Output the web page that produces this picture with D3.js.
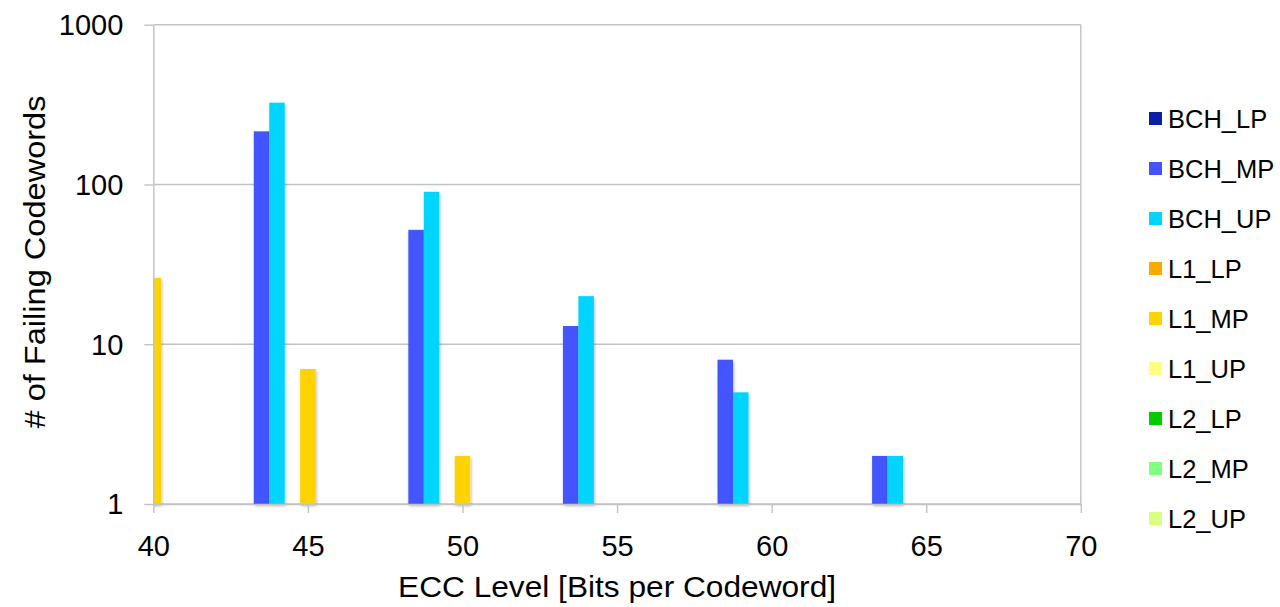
<!DOCTYPE html>
<html>
<head>
<meta charset="utf-8">
<script src="https://cdn.jsdelivr.net/npm/d3@7/dist/d3.min.js"></script>
<style>
  html, body { margin: 0; padding: 0; background: #fff; }
  svg { display: block; font-family: "Liberation Sans", Arial, sans-serif; }
</style>
</head>
<body>
<svg id="chart" width="1280" height="607"></svg>
<script>
// ECC levels at which each scheme was evaluated
const eccBCH = [44, 49, 54, 59, 64];
const eccL1 = [40, 45, 50];
const eccL2 = [];

// Failing codeword counts per series
const bchLP = [];
const bchMP = [215, 52, 13, 8, 2];
const bchUP = [325, 90, 20, 5, 2];
const l1LP = [];
const l1MP = [26, 7, 2];
const l1UP = [];
const l2LP = [];
const l2MP = [];
const l2UP = [];

const seriesNames = ["BCH_LP", "BCH_MP", "BCH_UP", "L1_LP", "L1_MP", "L1_UP", "L2_LP", "L2_MP", "L2_UP"];
const xTicks = [40, 45, 50, 55, 60, 65, 70];
const yTicks = [1, 10, 100, 1000];

const seriesColors = ["#0a1fa3", "#4354ff", "#00d4ff", "#ffa800", "#ffd300", "#ffff80", "#00cc00", "#80ff80", "#d9ff80"];
const seriesX = [eccBCH, eccBCH, eccBCH, eccL1, eccL1, eccL1, eccL2, eccL2, eccL2];
const seriesValues = [bchLP, bchMP, bchUP, l1LP, l1MP, l1UP, l2LP, l2MP, l2UP];
// horizontal slot of each series' bar, in bar widths from its ECC level
const seriesSlot = [-2, -1, 0, -1, 0, 1, -1, 0, 1];

const series = seriesNames.map((name, i) => ({
  name, x: seriesX[i], v: seriesValues[i], color: seriesColors[i], slot: seriesSlot[i]
}));

const svg = d3.select("#chart");
const plotLeft = 153.3, plotRight = 1080.8, plotTop = 24.7, plotBottom = 504;
const gridColor = "#c3c3c3";

const x = d3.scaleLinear().domain([40, 70]).range([plotLeft, plotRight]);
const y = d3.scaleLog().domain([1, 1000]).range([plotBottom, plotTop]);
const barUnits = 0.5; // bar width in ECC-level units
const barW = x(40 + barUnits) - x(40);

const defs = svg.append("defs");
defs.append("clipPath").attr("id", "plotClip")
  .append("rect").attr("x", plotLeft).attr("y", plotTop - 2)
  .attr("width", plotRight - plotLeft).attr("height", plotBottom - plotTop + 6);
const shadow = defs.append("filter").attr("id", "barShadow")
  .attr("x", "-30%").attr("y", "-10%").attr("width", "160%").attr("height", "130%");
shadow.append("feDropShadow").attr("dx", 1).attr("dy", 2).attr("stdDeviation", 1.6)
  .attr("flood-color", "#000").attr("flood-opacity", 0.28);

// horizontal gridlines
svg.append("g").selectAll("line").data(yTicks).join("line")
  .attr("x1", plotLeft).attr("x2", plotRight)
  .attr("y1", d => y(d)).attr("y2", d => y(d))
  .attr("stroke", gridColor).attr("stroke-width", 1.4);

// right border of plot
svg.append("line").attr("x1", plotRight).attr("x2", plotRight).attr("y1", plotTop).attr("y2", plotBottom)
  .attr("stroke", gridColor).attr("stroke-width", 1.4);

// bars
const bars = svg.append("g").attr("clip-path", "url(#plotClip)");
series.forEach(s => {
  const pts = s.v.map((val, i) => ({ xv: s.x[i], val }));
  bars.append("g").attr("filter", "url(#barShadow)")
    .selectAll("rect").data(pts).join("rect")
    .attr("x", d => x(d.xv + s.slot * barUnits) - barW / 2)
    .attr("width", barW)
    .attr("y", d => y(d.val))
    .attr("height", d => plotBottom - y(d.val))
    .attr("fill", s.color);
});

// y axis
const yAxis = svg.append("g").attr("transform", `translate(${plotLeft},0)`)
  .call(d3.axisLeft(y).tickValues(yTicks).tickFormat(d3.format("d")).tickSizeInner(9).tickSizeOuter(0).tickPadding(21));
yAxis.select(".domain").attr("stroke", gridColor).attr("stroke-width", 1.4);
yAxis.selectAll(".tick line").attr("stroke", gridColor).attr("stroke-width", 1.4);
yAxis.selectAll(".tick text").attr("font-size", 29).attr("fill", "#000")
  .attr("font-family", "Liberation Sans, Arial, sans-serif").attr("dy", "0.34em");

// x axis
const xAxis = svg.append("g").attr("transform", `translate(0,${plotBottom})`)
  .call(d3.axisBottom(x).tickValues(xTicks).tickFormat(d3.format("d")).tickSizeInner(9).tickSizeOuter(0).tickPadding(22));
xAxis.select(".domain").attr("stroke", gridColor).attr("stroke-width", 1.4);
xAxis.selectAll(".tick line").attr("stroke", gridColor).attr("stroke-width", 1.4);
xAxis.selectAll(".tick text").attr("font-size", 29).attr("fill", "#000")
  .attr("font-family", "Liberation Sans, Arial, sans-serif");

// axis titles
svg.append("text").attr("x", (plotLeft + plotRight) / 2).attr("y", 597)
  .attr("text-anchor", "middle").attr("font-size", 30).attr("fill", "#000")
  .attr("textLength", 438).attr("lengthAdjust", "spacingAndGlyphs")
  .text("ECC Level [Bits per Codeword]");
svg.append("text")
  .attr("transform", `translate(45,262) rotate(-90)`)
  .attr("text-anchor", "middle").attr("font-size", 30).attr("fill", "#000")
  .attr("textLength", 333).attr("lengthAdjust", "spacingAndGlyphs")
  .text("# of Failing Codewords");

// legend
const legend = svg.append("g").attr("transform", "translate(1149,112)");
const item = legend.selectAll("g").data(series).join("g")
  .attr("transform", (d, i) => `translate(0,${i * 50})`);
item.append("rect").attr("width", 13).attr("height", 13).attr("fill", d => d.color);
item.append("text").attr("x", 19).attr("y", 6.5).attr("dy", "0.36em")
  .attr("font-size", 25.5).attr("fill", "#000").text(d => d.name);
</script>
</body>
</html>
